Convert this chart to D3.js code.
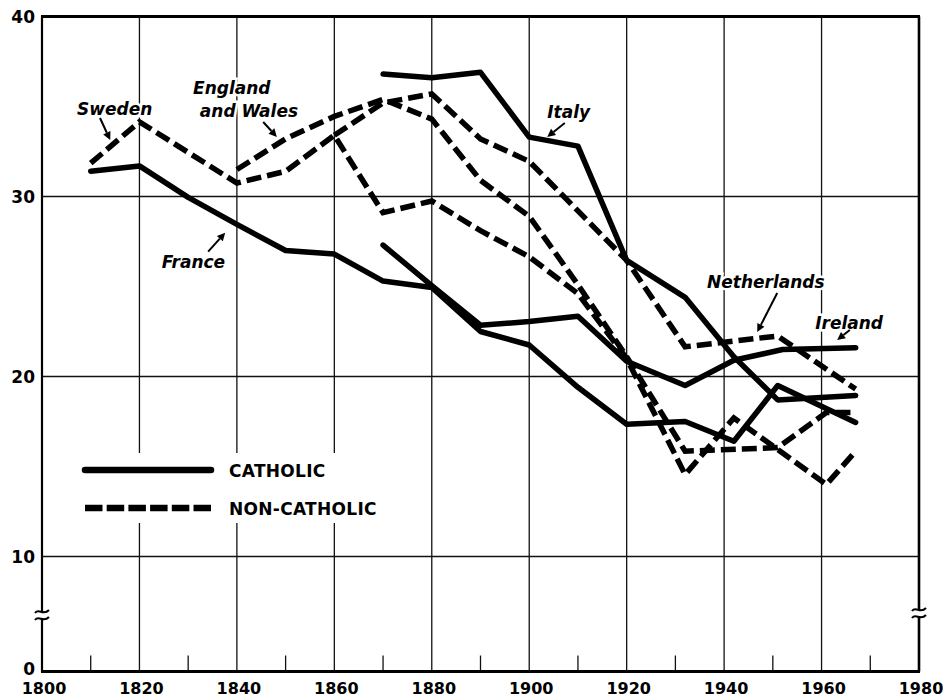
<!DOCTYPE html>
<html><head><meta charset="utf-8">
<script src="https://cdn.jsdelivr.net/npm/d3@7"></script>
<style>body{margin:0;background:#fff}svg{display:block}</style>
</head><body><svg id="c" width="943" height="699"></svg>
<script>
// ---- data ----
const xTicks = [1800,1820,1840,1860,1880,1900,1920,1940,1960,1980];
const minorTicks = [1810,1830,1850,1870,1890,1910,1930,1950,1970];
const yTicks = [0,10,20,30,40];

const franceYears  = [1810,1820,1830,1840,1850,1860,1870,1880,1890,1900,1910,1920,1932,1942,1951,1967];
const franceValues = [31.4,31.7,29.95,28.45,27.0,26.8,25.3,24.95,22.5,21.75,19.4,17.35,17.5,16.4,19.5,17.45];

const italyYears  = [1870,1880,1890,1900,1910,1920,1932,1942,1951,1967];
const italyValues = [36.8,36.6,36.9,33.3,32.8,26.45,24.4,21.1,18.7,18.95];

const irelandYears  = [1870,1880,1890,1900,1910,1920,1932,1942,1952,1967];
const irelandValues = [27.3,25.05,22.85,23.05,23.35,20.85,19.5,20.9,21.5,21.6];

const swedenYears  = [1810,1820,1840,1850,1860,1870,1880,1890,1900,1910,1920,1932,1942,1961,1967];
const swedenValues = [31.85,34.15,30.75,31.4,33.4,29.1,29.75,28.1,26.65,24.6,21.0,14.55,17.7,14.0,15.85];

const englandYears  = [1840,1850,1860,1870,1880,1890,1900,1910,1920,1932,1951,1961,1967];
const englandValues = [31.5,33.2,34.45,35.4,34.3,30.9,28.9,25.1,21.1,15.85,16.05,18.0,18.0];

const netherlandsYears  = [1860,1870,1880,1890,1900,1910,1920,1932,1951,1967];
const netherlandsValues = [33.4,35.2,35.7,33.2,31.95,29.2,26.45,21.65,22.25,19.3];

const series = [
  {name:"France", kind:"catholic", years:franceYears, values:franceValues},
  {name:"Italy", kind:"catholic", years:italyYears, values:italyValues},
  {name:"Ireland", kind:"catholic", years:irelandYears, values:irelandValues},
  {name:"Sweden", kind:"noncatholic", years:swedenYears, values:swedenValues},
  {name:"England and Wales", kind:"noncatholic", years:englandYears, values:englandValues},
  {name:"Netherlands", kind:"noncatholic", years:netherlandsYears, values:netherlandsValues}
];

// label text anchor (year,value) and arrow from/to (year,value)
const annotations = [
  {lines:["Sweden"], at:[1807.2,34.55], from:[1811.9,34.36], to:[1814.0,33.14]},
  {lines:["England","and Wales"], at:[1831.0,35.72], at2:[1832.4,34.44], from:[1845.4,34.14], to:[1848.2,33.31]},
  {lines:["Italy"], at:[1903.7,34.38], from:[1907.3,34.08], to:[1903.7,33.31]},
  {lines:["France"], at:[1824.6,26.04], from:[1834.1,26.94], to:[1837.6,27.99]},
  {lines:["Netherlands"], at:[1936.5,24.93], from:[1950.9,24.64], to:[1946.8,22.47]},
  {lines:["Ireland"], at:[1958.7,22.65], from:[1965.8,22.58], to:[1963.2,22.03]}
];

const legendItems = [
  {label:"CATHOLIC", kind:"catholic"},
  {label:"NON-CATHOLIC", kind:"noncatholic"}
];

// ---- chart ----
const svg = d3.select("#c");
const x = d3.scaleLinear().domain([1800,1980]).range([42,919]);
const y = d3.scaleLinear().domain([0,10,40]).range([671.5,556.5,16.5]);
const FONT = "'DejaVu Sans', sans-serif";

svg.append("rect").attr("width",943).attr("height",699).attr("fill","#fff");

const grid = svg.append("g").attr("stroke","#111").attr("stroke-width",1.3);
// horizontal gridlines
grid.selectAll("line.h").data(yTicks.filter(d=>d>0 && d<40)).enter().append("line")
  .attr("x1",x(1800)).attr("x2",x(1980)).attr("y1",d=>y(d)).attr("y2",d=>y(d));
// vertical gridlines
grid.selectAll("line.v").data(xTicks.filter(d=>d>1800 && d<1980)).enter().append("line")
  .attr("x1",d=>x(d)).attr("x2",d=>x(d)).attr("y1",y(0)).attr("y2",y(40));
// minor ticks
grid.selectAll("line.m").data(minorTicks).enter().append("line")
  .attr("x1",d=>x(d)).attr("x2",d=>x(d)).attr("y1",y(0)).attr("y2",y(0)-16);

// legend white box
svg.append("rect").attr("x",x(1800)+2).attr("y",453).attr("width",356).attr("height",70).attr("fill","#fff");

// frame / axes
const frame = svg.append("g").attr("stroke","#000").attr("fill","none");
frame.append("line").attr("x1",x(1800)-1).attr("x2",x(1980)+1).attr("y1",y(40)).attr("y2",y(40)).attr("stroke-width",3);
frame.append("line").attr("x1",x(1800)-1).attr("x2",x(1980)+1).attr("y1",y(0)).attr("y2",y(0)).attr("stroke-width",3.2);
frame.append("line").attr("x1",x(1800)).attr("x2",x(1800)).attr("y1",y(40)).attr("y2",y(0)).attr("stroke-width",2.2);
frame.append("line").attr("x1",x(1980)).attr("x2",x(1980)).attr("y1",y(40)).attr("y2",y(0)).attr("stroke-width",2.6);

// axis break marks
[x(1800), x(1980)].forEach((cx,i)=>{
  const cy = i===0 ? 615 : 613;
  svg.append("rect").attr("x",cx-4).attr("y",cy-3).attr("width",8).attr("height",6).attr("fill","#fff");
  [-3.5,3.5].forEach(off=>{
    const yy = cy+off;
    svg.append("path")
      .attr("d",`M${cx-7},${yy+1.5} C${cx-3},${yy-4} ${cx+1},${yy+5} ${cx+7},${yy-1.5}`)
      .attr("fill","none").attr("stroke","#000").attr("stroke-width",2);
  });
});

// tick labels
svg.append("g").selectAll("text").data(yTicks).enter().append("text")
  .attr("x",35).attr("y",d=>y(d)+(d===0?3:6)).attr("text-anchor","end")
  .attr("font-family",FONT).attr("font-weight","bold").attr("font-size",17)
  .text(d=>d);
svg.append("g").selectAll("text").data(xTicks).enter().append("text")
  .attr("x",d=>x(d)+2).attr("y",694).attr("text-anchor","middle")
  .attr("font-family",FONT).attr("font-weight","bold").attr("font-size",16)
  .text(d=>d);

// data lines
const line = d3.line().x(d=>x(d.year)).y(d=>y(d.value));
const styles = {
  catholic:{dash:null, cap:"round", join:"round"},
  noncatholic:{dash:"15,6", cap:"butt", join:"miter"}
};
svg.append("g").selectAll("path").data(series).enter().append("path")
  .attr("d",s=>line(s.years.map((yr,i)=>({year:yr,value:s.values[i]}))))
  .attr("fill","none").attr("stroke","#000").attr("stroke-width",5.5)
  .attr("stroke-dasharray",s=>styles[s.kind].dash)
  .attr("stroke-linecap",s=>styles[s.kind].cap)
  .attr("stroke-linejoin",s=>styles[s.kind].join);

// annotations
const ann = svg.append("g");
annotations.forEach(a=>{
  const pts = [a.at, a.at2].filter(Boolean);
  a.lines.forEach((t,i)=>{
    ann.append("text").attr("x",x(pts[i][0])).attr("y",y(pts[i][1]))
      .attr("font-family",FONT).attr("font-weight","bold").attr("font-style","italic")
      .attr("font-size",17).attr("fill","#000")
      .attr("stroke","#fff").attr("stroke-width",5).attr("paint-order","stroke")
      .text(t);
  });
  const x1=x(a.from[0]), y1=y(a.from[1]), x2=x(a.to[0]), y2=y(a.to[1]);
  const ang=Math.atan2(y2-y1,x2-x1), L=8, W=4;
  const bx=x2-L*Math.cos(ang), by=y2-L*Math.sin(ang);
  ann.append("line").attr("x1",x1).attr("y1",y1).attr("x2",bx).attr("y2",by)
    .attr("stroke","#000").attr("stroke-width",2);
  ann.append("path").attr("d",`M${x2},${y2}L${bx+W*Math.sin(ang)},${by-W*Math.cos(ang)}L${bx-W*Math.sin(ang)},${by+W*Math.cos(ang)}Z`)
    .attr("fill","#000");
});

// legend
const lg = svg.append("g");
legendItems.forEach((it,i)=>{
  const ly = 470 + i*38;
  lg.append("line").attr("x1",85).attr("x2",211).attr("y1",ly).attr("y2",ly)
    .attr("stroke","#000").attr("stroke-width",6.5)
    .attr("stroke-linecap", it.kind==="catholic"?"round":"butt")
    .attr("stroke-dasharray", it.kind==="catholic"?null:"17.5,4.2");
  lg.append("text").attr("x",229).attr("y",ly+7)
    .attr("font-family",FONT).attr("font-weight","bold").attr("font-size",17)
    .attr("letter-spacing",0.3).text(it.label);
});
</script></body></html>
